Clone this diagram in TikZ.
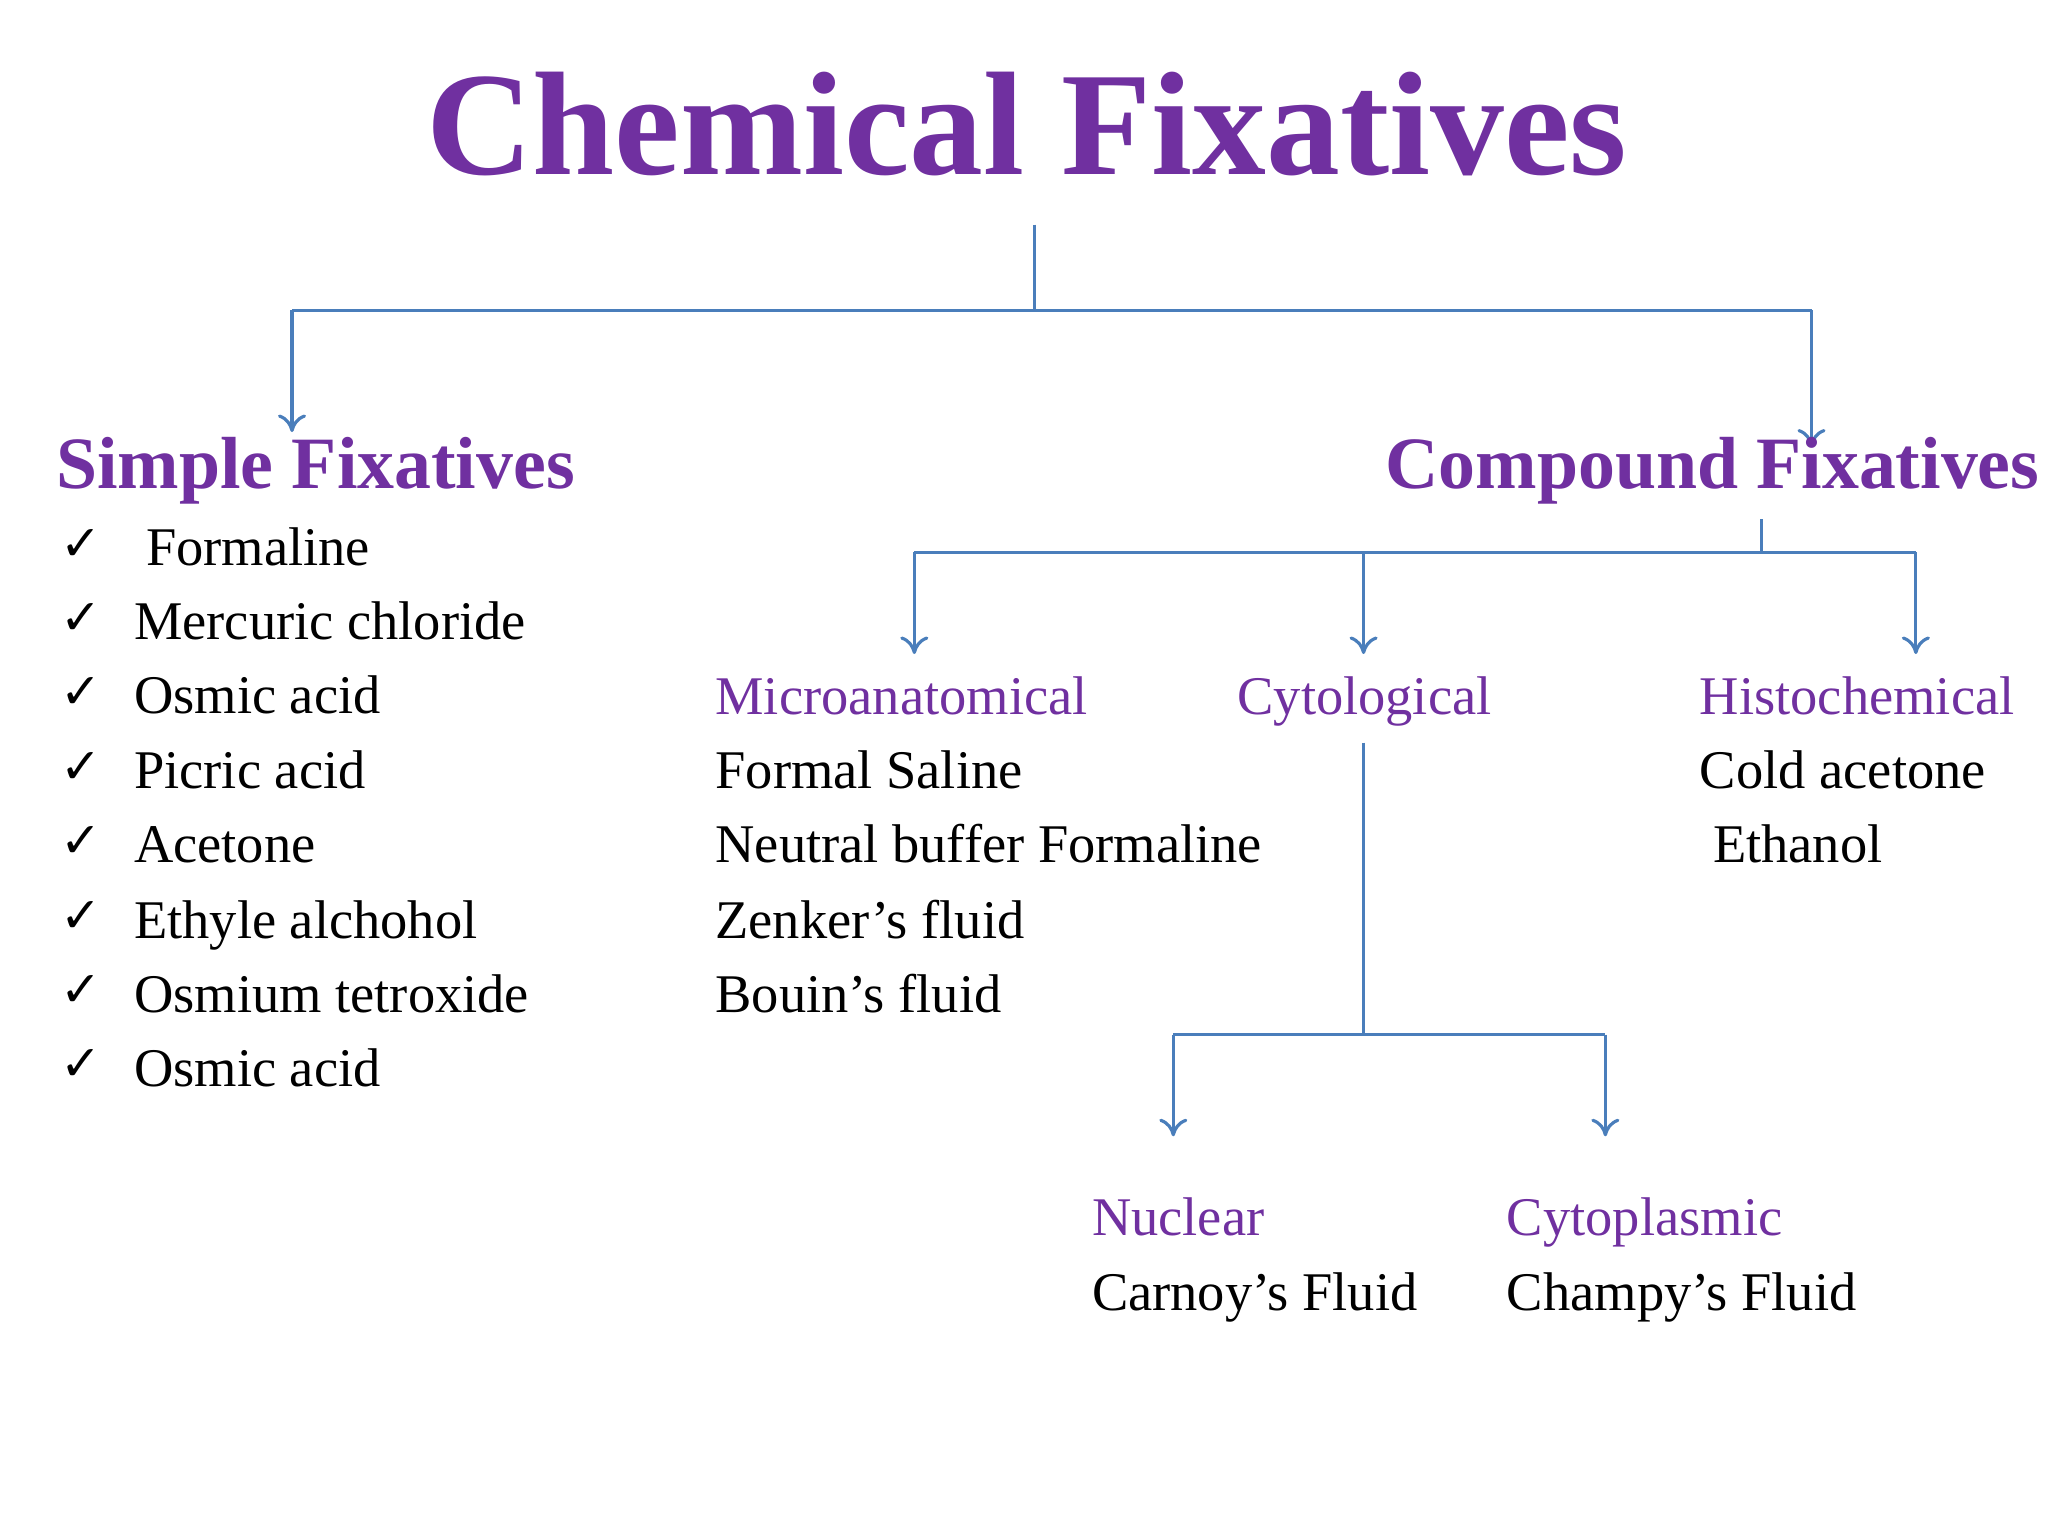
\documentclass[tikz,border=0pt]{standalone}
\usepackage{fontspec}
\usetikzlibrary{arrows.meta}
\setmainfont{Liberation Serif}
\newfontfamily\chk{DejaVu Sans}
\definecolor{pur}{HTML}{7030A0}
\definecolor{lin}{HTML}{4A7EBB}
\begin{document}
\begin{tikzpicture}[x=0.01321cm,y=-0.01321cm,
  txt/.style={anchor=base west,inner sep=0,font=\fontsize{15.5}{18}\selectfont},
  ptxt/.style={txt,text=pur},
  hd/.style={anchor=base west,inner sep=0,text=pur,font=\fontsize{21}{24}\selectfont\bfseries},
  ck/.style={anchor=base west,inner sep=0,font=\chk\fontsize{14}{16}\selectfont},
  con/.style={draw=lin,line width=0.9pt},
  arr/.style={con,-{To[length=5pt,width=8pt]}}]
\useasboundingbox (0,0) rectangle (1550,1162);
\node[anchor=base,inner sep=0,text=pur,font=\fontsize{42}{48}\selectfont\bfseries] (title) at (777,132) {Chemical Fixatives};
\coordinate (t0) at (783,170); \coordinate (t1) at (783,235);
\coordinate (tl) at (221,235); \coordinate (tr) at (1371,235);
\coordinate (al) at (221,327); \coordinate (ar) at (1371,338);
\draw[con] (t0)--(t1); \draw[con] (tl)--(tr);
\draw[arr] (tl)--(al); \draw[arr] (tr)--(ar);
\node[hd] (simple) at (42,370) {Simple Fixatives};
\node[hd] (compound) at (1048,370) {Compound Fixatives};
\foreach \y/\t/\x [count=\i] in {428/Formaline/110,484/Mercuric chloride/101,540/Osmic acid/101,597/Picric acid/101,653/Acetone/101,710/Ethyle alchohol/101,766/Osmium tetroxide/101,822/Osmic acid/101}{
  \node[ck] (c\i) at (45,\y-4) {✓};
  \node[txt] (s\i) at (\x,\y) {\t};
}
\coordinate (c0) at (1333,393); \coordinate (c1) at (1333,418);
\coordinate (cl) at (692,418); \coordinate (cm) at (1032,418); \coordinate (cr) at (1450,418);
\draw[con] (c0)--(c1); \draw[con] (cl)--(cr);
\draw[arr] (cl)--(692,495); \draw[arr] (cm)--(1032,495); \draw[arr] (cr)--(1450,495);
\node[ptxt] (micro) at (541,541) {Microanatomical};
\node[ptxt] (cyto) at (936,541) {Cytological};
\node[ptxt] (histo) at (1286,541) {Histochemical};
\node[txt] (m1) at (541,597) {Formal Saline};
\node[txt] (m2) at (541,653) {Neutral buffer Formaline};
\node[txt] (m3) at (541,710) {Zenker’s fluid};
\node[txt] (m4) at (541,766) {Bouin’s fluid};
\node[txt] (h1) at (1286,597) {Cold acetone};
\node[txt] (h2) at (1296,653) {Ethanol};
\coordinate (y0) at (1032,562); \coordinate (y1) at (1032,783);
\coordinate (yl) at (888,783); \coordinate (yr) at (1215,783);
\draw[con] (y0)--(y1); \draw[con] (yl)--(yr);
\draw[arr] (yl)--(888,860); \draw[arr] (yr)--(1215,860);
\node[ptxt] (nuc) at (826,935) {Nuclear};
\node[txt] (n1) at (826,992) {Carnoy’s Fluid};
\node[ptxt] (cyp) at (1140,935) {Cytoplasmic};
\node[txt] (p1) at (1140,992) {Champy’s Fluid};
\end{tikzpicture}
\end{document}
